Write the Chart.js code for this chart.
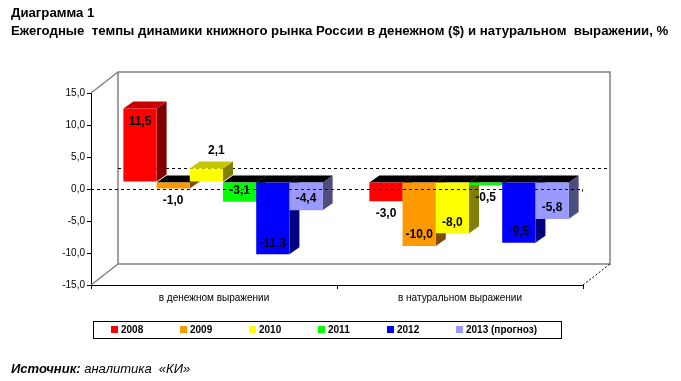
<!DOCTYPE html>
<html><head><meta charset="utf-8">
<script src="https://cdn.jsdelivr.net/npm/chart.js@4.4.0/dist/chart.umd.min.js"></script>
<style>
html,body{margin:0;padding:0;background:#fff;}
#wrap{position:relative;width:681px;height:381px;overflow:hidden;background:#fff;}
canvas{position:absolute;left:0;top:0;}
.t{position:absolute;left:11px;font-family:"Liberation Sans",Arial,sans-serif;white-space:pre;color:#000;}
</style></head><body>
<div id="wrap">
<canvas id="c" width="681" height="381"></canvas>
<div class="t" style="top:4px;font-size:13.2px;font-weight:bold;line-height:18px">Диаграмма 1
Ежегодные  темпы динамики книжного рынка России в денежном ($) и натуральном  выражении, %</div>
<div class="t" style="top:361px;font-size:13px;font-style:italic"><b>Источник:</b> аналитика  «КИ»</div>
</div>
<script>
// ---- data ----
const categories = ['в денежном выражении', 'в натуральном выражении'];
const seriesNames = ['2008', '2009', '2010', '2011', '2012', '2013 (прогноз)'];
const v2008 = [11.5, -3.0];
const v2009 = [-1.0, -10.0];
const v2010 = [2.1, -8.0];
const v2011 = [-3.1, -0.5];
const v2012 = [-11.3, -9.5];
const v2013 = [-4.4, -5.8];
const yMin = -15, yMax = 15, yStep = 5;

// ---- styles ----
const seriesColors = ['#FF0000', '#FF9900', '#FFFF00', '#00FF00', '#0000FF', '#9999FF'];
const FONT = '"Liberation Sans", Arial, sans-serif';
Chart.defaults.font.family = FONT;
Chart.defaults.color = '#000';

function shade(hex, f) {
  const n = parseInt(hex.slice(1), 16);
  const r = Math.round(((n >> 16) & 255) * f), g = Math.round(((n >> 8) & 255) * f), b = Math.round((n & 255) * f);
  return `rgb(${r},${g},${b})`;
}
const fmt = v => v.toFixed(1).replace('.', ',');

const SHIFT = {x: 9, y: -7};   // bars plane relative to front plane
const DEPTH = {x: 10, y: -7};  // bar depth
const WALL = {x: 27, y: -21};  // back wall relative to front plane

const allSeries = [v2008, v2009, v2010, v2011, v2012, v2013];

const threeD = {
  id: 'threeD',
  beforeDatasetsDraw(chart) {
    const ctx = chart.ctx, a = chart.chartArea, ys = chart.scales.y;
    ctx.save();
    // back wall + floor edges
    ctx.strokeStyle = '#808080';
    ctx.lineWidth = 1.5;
    ctx.beginPath();
    ctx.rect(a.left + WALL.x, a.top + WALL.y, a.right - a.left, a.bottom - a.top);
    ctx.moveTo(a.left, a.top); ctx.lineTo(a.left + WALL.x, a.top + WALL.y);
    ctx.moveTo(a.left, a.bottom); ctx.lineTo(a.left + WALL.x, a.bottom + WALL.y);
    ctx.stroke();
    ctx.strokeStyle = '#000';
    ctx.lineWidth = 1;
    ctx.setLineDash([2, 2]);
    ctx.beginPath();
    ctx.moveTo(a.right, a.bottom); ctx.lineTo(a.right + WALL.x, a.bottom + WALL.y);
    ctx.stroke();
    // back zero line
    ctx.setLineDash([3, 3]);
    let z = Math.round(ys.getPixelForValue(0) + WALL.y) + 0.5;
    ctx.beginPath();
    ctx.moveTo(a.left + WALL.x, z); ctx.lineTo(a.right + WALL.x, z);
    ctx.stroke();
    ctx.restore();

    // bars: left-to-right within each category (dataset order), side + top then front
    ctx.save();
    ctx.translate(SHIFT.x, SHIFT.y);
    chart.data.datasets.forEach((ds, di) => {
      const meta = chart.getDatasetMeta(di);
      meta.data.forEach((el, i) => {
        const v = ds.data[i];
        const w = el.width, l = el.x - w / 2, r = el.x + w / 2;
        const t = Math.min(el.y, el.base), b = Math.max(el.y, el.base);
        ctx.fillStyle = shade(ds.backgroundColor, 0.5);
        ctx.beginPath();
        ctx.moveTo(r, t); ctx.lineTo(r + DEPTH.x, t + DEPTH.y);
        ctx.lineTo(r + DEPTH.x, b + DEPTH.y); ctx.lineTo(r, b); ctx.closePath();
        ctx.fill();
        ctx.fillStyle = v >= 0 ? shade(ds.backgroundColor, 0.78) : '#000';
        ctx.beginPath();
        ctx.moveTo(l, t); ctx.lineTo(r, t);
        ctx.lineTo(r + DEPTH.x, t + DEPTH.y); ctx.lineTo(l + DEPTH.x, t + DEPTH.y); ctx.closePath();
        ctx.fill();
        el.draw(ctx, a);
      });
    });
    ctx.restore();

    ctx.save();
    // front zero line
    ctx.strokeStyle = '#000';
    ctx.lineWidth = 1;
    ctx.setLineDash([3, 3]);
    z = Math.round(ys.getPixelForValue(0)) + 0.5;
    ctx.beginPath();
    ctx.moveTo(a.left, z); ctx.lineTo(a.right, z);
    ctx.stroke();
    ctx.setLineDash([]);
    ctx.beginPath();
    ctx.moveTo(a.right - 0.5, z); ctx.lineTo(a.right - 0.5, z + 2);
    ctx.stroke();
    // data labels
    ctx.font = 'bold 12px ' + FONT;
    ctx.fillStyle = '#000';
    ctx.textAlign = 'center';
    ctx.textBaseline = 'middle';
    chart.data.datasets.forEach((ds, di) => {
      chart.getDatasetMeta(di).data.forEach((el, i) => {
        const v = ds.data[i];
        const inside = Math.abs(v) > 3.05;
        const x = el.x + SHIFT.x;
        const t = Math.min(el.y, el.base) + SHIFT.y, b = Math.max(el.y, el.base) + SHIFT.y;
        let lx = x, ly;
        if (v >= 0) {
          if (inside) ly = t + 13; else { ly = t + DEPTH.y - 11; lx = x + DEPTH.x; }
        } else {
          ly = inside ? b - 11 : b + 12;
        }
        ctx.fillText(fmt(v), lx, ly);
      });
    });
    ctx.restore();
    return false; // bars already drawn above
  },
  afterDraw(chart) {
    // legend
    const ctx = chart.ctx;
    ctx.save();
    ctx.strokeStyle = '#000';
    ctx.lineWidth = 1;
    ctx.strokeRect(93.5, 321.5, 468, 17);
    ctx.font = 'bold 10px ' + FONT;
    ctx.textBaseline = 'middle';
    ctx.textAlign = 'left';
    chart.data.datasets.forEach((ds, i) => {
      const x = 111 + i * 69;
      ctx.fillStyle = ds.backgroundColor;
      ctx.fillRect(x, 326, 7, 7);
      ctx.fillStyle = '#000';
      ctx.fillText(ds.label, x + 10, 330);
    });
    ctx.restore();
  }
};

new Chart(document.getElementById('c'), {
  type: 'bar',
  data: {
    labels: categories,
    datasets: allSeries.map((d, i) => ({
      label: seriesNames[i],
      data: d,
      backgroundColor: seriesColors[i],
      borderWidth: 0,
      clip: false
    }))
  },
  options: {
    responsive: false,
    animation: false,
    events: [],
    layout: {padding: {left: 0, right: 98, top: 93, bottom: 76}},
    datasets: {bar: {barPercentage: 1, categoryPercentage: 0.81}},
    plugins: {legend: {display: false}, tooltip: {enabled: false}, title: {display: false}},
    scales: {
      x: {
        grid: {display: true, drawOnChartArea: false, drawTicks: true, tickLength: 4, color: '#000', offset: true},
        border: {display: true, color: '#000', width: 1},
        ticks: {font: {size: 10}, color: '#000', padding: 3, maxRotation: 0},
        afterFit: s => { s.height = 20; }
      },
      y: {
        min: yMin, max: yMax,
        grid: {display: true, drawOnChartArea: false, drawTicks: true, tickLength: 4, color: '#000'},
        border: {display: true, color: '#000', width: 1},
        ticks: {stepSize: yStep, font: {size: 10}, color: '#000', padding: 2, callback: v => fmt(v)},
        afterFit: s => { s.width = 91; }
      }
    }
  },
  plugins: [threeD]
});
</script>
</body></html>
